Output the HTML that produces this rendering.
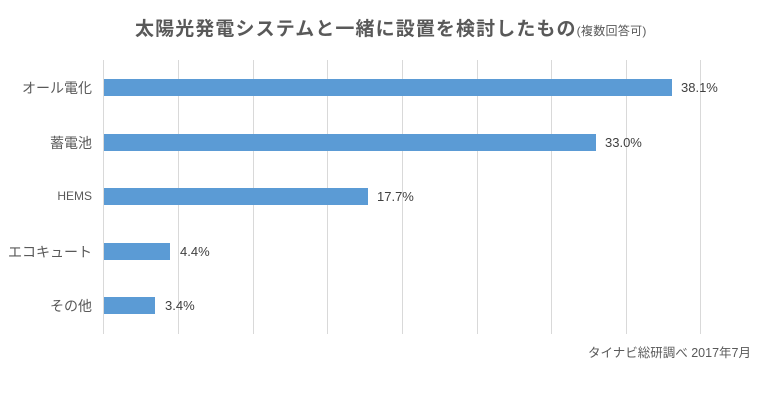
<!DOCTYPE html>
<html><head><meta charset="utf-8"><style>
body{margin:0;background:#fff;}
#c{position:relative;width:781px;height:413px;overflow:hidden;font-family:"Liberation Sans","Noto Sans CJK JP",sans-serif;color:#595959;}
.t{position:absolute;top:14px;left:135px;width:560px;font-size:19px;font-weight:bold;white-space:nowrap;letter-spacing:1.1px}
.t small{font-size:12px;font-weight:normal;letter-spacing:0.3px}
.g{position:absolute;top:60px;height:274px;width:1px;background:#d9d9d9}
.b{position:absolute;left:104px;height:17px;background:#5b9bd5}
.l{position:absolute;right:689px;font-size:14px;white-space:nowrap}
.v{position:absolute;font-size:13px;color:#404040}
.s{position:absolute;left:588px;top:342px;font-size:12.5px}
</style></head><body><div id="c">
<div class="t">太陽光発電システムと一緒に設置を検討したもの<small>(複数回答可)</small></div>
<div class="g" style="left:103px"></div><div class="g" style="left:178px"></div><div class="g" style="left:253px"></div><div class="g" style="left:327px"></div><div class="g" style="left:402px"></div><div class="g" style="left:477px"></div><div class="g" style="left:551px"></div><div class="g" style="left:626px"></div><div class="g" style="left:700px"></div>
<div class="b" style="top:79px;width:568px"></div><div class="l" style="top:78px">オール電化</div><div class="v" style="left:681px;top:80px">38.1%</div>
<div class="b" style="top:134px;width:492px"></div><div class="l" style="top:133px">蓄電池</div><div class="v" style="left:605px;top:135px">33.0%</div>
<div class="b" style="top:188px;width:264px"></div><div class="l" style="top:189px;font-size:12px">HEMS</div><div class="v" style="left:377px;top:189px">17.7%</div>
<div class="b" style="top:243px;width:66px"></div><div class="l" style="top:242px">エコキュート</div><div class="v" style="left:180px;top:244px">4.4%</div>
<div class="b" style="top:297px;width:51px"></div><div class="l" style="top:296px">その他</div><div class="v" style="left:165px;top:298px">3.4%</div>
<div class="s">タイナビ総研調べ 2017年7月</div>
</div></body></html>
